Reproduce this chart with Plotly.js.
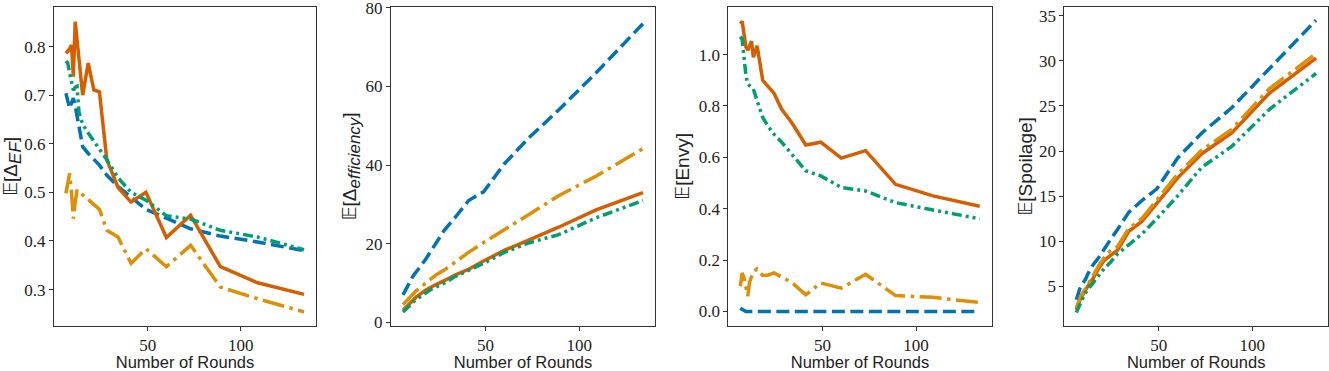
<!DOCTYPE html>
<html><head><meta charset="utf-8">
<script src="https://cdn.plot.ly/plotly-3.0.1.min.js"></script>
<style>html,body{margin:0;padding:0;background:#fff;}#chart{width:1329px;height:371px;}</style>
</head><body><div id="chart"></div>
<script>
const rounds = [6, 7, 8, 9, 10, 11, 12, 13, 15, 18, 21, 24, 28, 34, 41, 49, 60, 73, 89, 109, 134];

// Panel 1: E[Delta_EF]
const ef_blue   = [0.704, 0.688, 0.673, 0.684, 0.694, 0.678, 0.655, 0.633, 0.594, 0.58, 0.567, 0.556, 0.535, 0.512, 0.49, 0.465, 0.447, 0.425, 0.41, 0.398, 0.38];
const ef_red    = [0.786, 0.79, 0.795, 0.803, 0.738, 0.851, 0.81, 0.77, 0.70, 0.766, 0.711, 0.707, 0.567, 0.51, 0.48, 0.50, 0.407, 0.453, 0.347, 0.314, 0.29];
const ef_yellow = [0.498, 0.52, 0.539, 0.50, 0.446, 0.48, 0.505, 0.50, 0.495, 0.485, 0.475, 0.465, 0.422, 0.408, 0.354, 0.384, 0.347, 0.391, 0.305, 0.281, 0.254];
const ef_green  = [0.77, 0.766, 0.745, 0.728, 0.71, 0.716, 0.718, 0.665, 0.64, 0.622, 0.605, 0.59, 0.567, 0.53, 0.50, 0.484, 0.452, 0.445, 0.422, 0.408, 0.382];

// Panel 2: E[Delta_efficiency]
const eff_blue   = [7.0, 8.0, 9.0, 10.0, 10.8, 11.5, 12.2, 12.7, 14.0, 16.0, 18.3, 20.5, 23.4, 26.8, 31, 33.2, 40.3, 46.9, 54, 63.5, 76];
const eff_red    = [3.1, 3.6, 4.2, 4.7, 5.2, 5.6, 6.0, 6.4, 7.1, 8.2, 9.0, 9.6, 10.6, 12.1, 13.5, 15.6, 18.3, 20.9, 24.2, 28.6, 33];
const eff_yellow = [4.5, 5.0, 5.6, 6.2, 6.7, 7.2, 7.6, 8.0, 8.8, 10.0, 11.2, 12.2, 13.3, 15.4, 17.8, 20.3, 23.5, 27.4, 32.2, 37.2, 44.2];
const eff_green  = [2.6, 3.1, 3.7, 4.2, 4.6, 5.0, 5.4, 5.8, 6.5, 7.5, 8.4, 9.1, 10.0, 11.7, 13.3, 15.0, 17.8, 20.2, 22.3, 26.6, 31];

// Panel 3: E[Envy]
const envy_blue   = [0.013, 0.008, 0.003, 0, 0, 0, 0, 0, 0, 0, 0, 0, 0, 0, 0, 0, 0, 0, 0, 0, 0];
const envy_red    = [1.12, 1.13, 1.08, 1.03, 1.017, 1.04, 1.052, 0.99, 1.034, 0.90, 0.875, 0.85, 0.789, 0.73, 0.648, 0.659, 0.597, 0.626, 0.495, 0.45, 0.41];
const envy_yellow = [0.098, 0.15, 0.13, 0.10, 0.06, 0.115, 0.135, 0.155, 0.166, 0.14, 0.142, 0.15, 0.135, 0.11, 0.065, 0.111, 0.091, 0.145, 0.062, 0.055, 0.035];
const envy_green  = [1.07, 1.06, 0.99, 0.92, 0.885, 0.88, 0.875, 0.866, 0.82, 0.755, 0.72, 0.69, 0.66, 0.61, 0.548, 0.528, 0.483, 0.469, 0.424, 0.395, 0.361];

// Panel 4: E[Spoilage]
const sp_blue   = [3.5, 4.2, 4.8, 5.2, 5.5, 5.8, 6.3, 6.7, 7.4, 8.2, 9.2, 10.1, 11.3, 13.2, 14.5, 15.8, 19.2, 22, 24.8, 29.1, 34.5];
const sp_red    = [2.4, 3.0, 3.5, 3.9, 4.3, 4.7, 5.0, 5.3, 5.9, 7.0, 7.9, 8.4, 9.0, 11.1, 12.2, 14.2, 17.0, 19.7, 22, 26.4, 30.3];
const sp_yellow = [2.6, 3.2, 3.7, 4.1, 4.5, 4.9, 5.2, 5.5, 6.2, 7.3, 8.2, 8.9, 9.4, 11.4, 12.5, 14.6, 17.4, 20.1, 22.4, 26.9, 30.8];
const sp_green  = [2.1, 2.6, 3.1, 3.5, 3.9, 4.3, 4.6, 4.9, 5.4, 6.2, 7.0, 7.6, 8.6, 9.6, 10.8, 12.5, 15.0, 18.2, 20.5, 24.6, 28.6];

const xTickVals = [50, 100];
const yTicks1 = [0.3, 0.4, 0.5, 0.6, 0.7, 0.8];
const yTicks2 = [0, 20, 40, 60, 80];
const yTicks3 = [0.0, 0.2, 0.4, 0.6, 0.8, 1.0];
const yTicks4 = [5, 10, 15, 20, 25, 30, 35];

const xTitle = "Number of Rounds";
const SUB = s => "<sub><span style=\"font-size:17px\"><i>" + s + "</i></span></sub>";
const yTitles = [
  "𝔼[Δ" + SUB("EF") + "]",
  "𝔼[Δ" + SUB("efficiency") + "]",
  "𝔼[Envy]",
  "𝔼[Spoilage]"
];

const COL = {blue: '#0173B2', red: '#D55E00', yellow: '#DE8F05', green: '#029E73'};
const DASH = {blue: '13px,5.5px', red: 'solid', yellow: '22px,5.5px,3.5px,5.5px', green: '10px,4px,3px,4px,3px,4px'};
const LW = 3.5;

const panels = [
  {series: {blue: ef_blue, red: ef_red, yellow: ef_yellow, green: ef_green}, yr: [0.225, 0.882], ticks: yTicks1, fmt: '.1f'},
  {series: {blue: eff_blue, red: eff_red, yellow: eff_yellow, green: eff_green}, yr: [-0.93, 80.3], ticks: yTicks2, fmt: 'd'},
  {series: {blue: envy_blue, red: envy_red, yellow: envy_yellow, green: envy_green}, yr: [-0.0565, 1.1865], ticks: yTicks3, fmt: '.1f'},
  {series: {blue: sp_blue, red: sp_red, yellow: sp_yellow, green: sp_green}, yr: [0.6, 36.0], ticks: yTicks4, fmt: 'd'}
];

const W = 1329, H = 371;
const xPix = [[54, 316], [391, 655], [728.3, 991.7], [1064.3, 1328]];
const yDom = [1 - 326 / H, 1 - 6.7 / H];
const standoffs = [26, 3, 3, 1];

const data = [];
const layout = {
  width: W, height: H, margin: {l: 0, r: 0, t: 0, b: 0},
  paper_bgcolor: '#fff', plot_bgcolor: '#fff', showlegend: false,
  font: {family: 'Liberation Serif, DejaVu Serif, serif', size: 17, color: '#222'}
};

panels.forEach((p, i) => {
  const n = i === 0 ? '' : String(i + 1);
  ['blue', 'red', 'yellow', 'green'].forEach(k => {
    data.push({
      type: 'scatter', mode: 'lines', x: rounds, y: p.series[k],
      xaxis: 'x' + n, yaxis: 'y' + n,
      line: {color: COL[k], width: LW, dash: DASH[k]},
      hoverinfo: 'skip'
    });
  });
  const axCommon = {
    showline: true, mirror: true, linecolor: '#333', linewidth: 1,
    ticks: 'outside', ticklen: 4, tickwidth: 1, tickcolor: '#333',
    showgrid: false, zeroline: false, automargin: false, ticklabeloverflow: 'allow',
    tickfont: {family: 'Liberation Serif, DejaVu Serif, serif', size: 17, color: '#222'}
  };
  layout['xaxis' + n] = Object.assign({}, axCommon, {
    domain: [xPix[i][0] / W, xPix[i][1] / W], anchor: 'y' + n,
    range: [-0.4, 140.4], tickvals: xTickVals,
    title: {text: xTitle, font: {family: 'Liberation Sans, Arial, sans-serif', size: 16.5, color: '#222'}, standoff: 4}
  });
  layout['yaxis' + n] = Object.assign({}, axCommon, {
    domain: yDom, anchor: 'x' + n, range: p.yr, tickvals: p.ticks, tickformat: p.fmt,
    title: {text: yTitles[i], font: {family: 'Liberation Sans, DejaVu Sans, sans-serif', size: 19, color: '#222'}, standoff: standoffs[i]}
  });
});

Plotly.newPlot('chart', data, layout, {staticPlot: true, displayModeBar: false});
</script>
</body></html>
